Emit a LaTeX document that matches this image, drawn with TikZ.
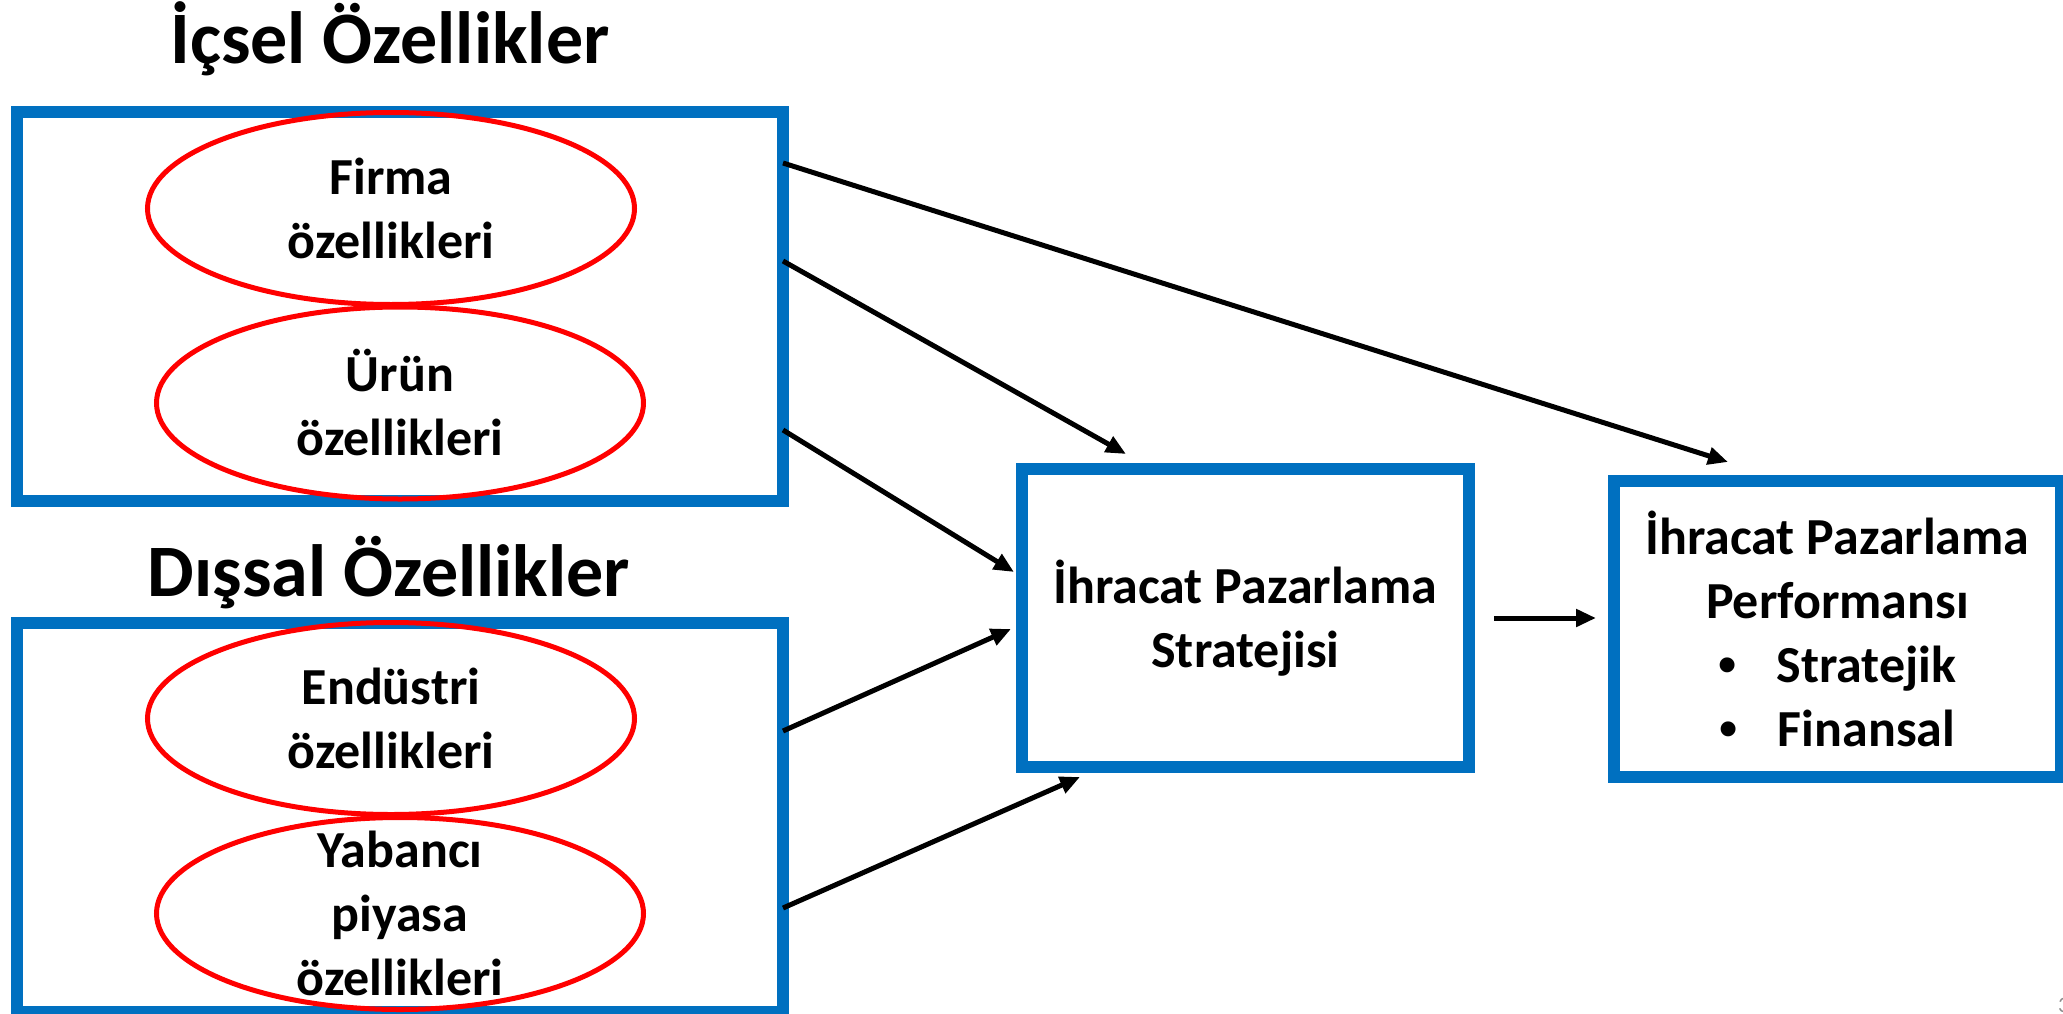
\documentclass[tikz,border=0pt]{standalone}
\usepackage{fontspec}
\setmainfont{Carlito}
\newfontfamily\bulletfont{Liberation Sans}
\usetikzlibrary{arrows.meta,shapes.geometric}
\definecolor{boxblue}{HTML}{0070C0}
\definecolor{ellred}{HTML}{FF0000}
\definecolor{numgrey}{HTML}{8C8C8C}
\begin{document}
\begin{tikzpicture}[x=1pt,y=-1pt,
  bluebox/.style={draw=boxblue, line width=12pt, rectangle, outer sep=0pt, inner sep=0pt,
    align=center, font=\fontsize{52}{64}\selectfont\bfseries},
  redell/.style={draw=ellred, line width=5pt, ellipse, inner sep=0pt, outer sep=0pt,
    minimum width=487pt, minimum height=192pt},
  elltext/.style={inner sep=0pt, align=center, font=\fontsize{52}{64}\selectfont\bfseries},
  titletext/.style={font=\fontsize{74}{88}\selectfont\bfseries, inner sep=0pt, anchor=base},
  conn/.style={draw=black, line width=5pt, -{Triangle[length=20pt,width=17pt]}},
]
\useasboundingbox (0,0) rectangle (2063,1014);

% titles
\node[titletext] (t_icsel) at (390,64) {İçsel Özellikler};
\node[titletext] (t_dissal) at (389,596) {Dışsal Özellikler};

% group boxes
\node[bluebox, minimum width=766pt, minimum height=389pt] (box1) at (400,306.5) {};
\node[bluebox, minimum width=766pt, minimum height=389pt] (box2) at (400,817.5) {};

% ellipses
\node[redell] (firma) at (391,208.5) {};
\node[elltext] (firma_t) at (firma.center) {Firma\\özellikleri};
\node[redell] (urun) at (400,403) {};
\node[elltext] (urun_t) at (urun.center) {Ürün\\özellikleri};
\node[redell] (endustri) at (391,718.5) {};
\node[elltext] (endustri_t) at (endustri.center) {Endüstri\\özellikleri};
\node[redell] (yabanci) at (400,913.5) {};
\node[elltext] (yabanci_t) at (yabanci.center) {Yabancı\\piyasa\\özellikleri};

% strategy and performance boxes
\node[bluebox, minimum width=447pt, minimum height=298pt] (strat) at (1245.5,618)
  {İhracat Pazarlama\\Stratejisi};
\node[bluebox, minimum width=447pt, minimum height=296pt] (perf) at (1837.5,629)
  {İhracat Pazarlama\\Performansı\\{\bulletfont •}\hspace{40pt}Stratejik\\{\bulletfont •}\hspace{40pt}Finansal};

% arrow tips
\coordinate (tip1) at (1728,462);
\coordinate (tip2) at (1126,454);
\coordinate (tip3) at (1014,572);
\coordinate (tip4) at (1011,629);
\coordinate (tip5) at (1080,777);

% connectors
\draw[conn] (box1.east |- 0,163) -- (tip1);
\draw[conn] (box1.east |- 0,261) -- (tip2);
\draw[conn] (box1.east |- 0,430) -- (tip3);
\draw[conn] (box2.east |- 0,731) -- (tip4);
\draw[conn] (box2.east |- 0,908) -- (tip5);
\draw[conn, shorten <=25pt, shorten >=18pt] (strat.east) -- (perf.west |- strat.east);

% page number (cut at edge)
\node[anchor=base west, inner sep=0pt, text=numgrey, font=\fontsize{22}{24}\selectfont] (pagenum) at (2058,1012) {3};
\end{tikzpicture}
\end{document}
